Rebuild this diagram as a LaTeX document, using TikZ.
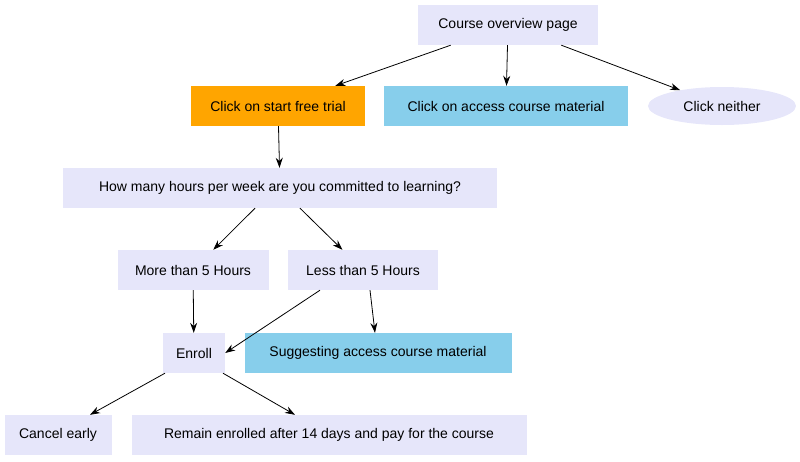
\documentclass[tikz,border=0pt]{standalone}
\usepackage{fontspec}
\setmainfont{Liberation Sans}
\usetikzlibrary{shapes.geometric,arrows.meta}
\definecolor{lav}{HTML}{E6E6FA}
\definecolor{sky}{HTML}{87CEEB}
\definecolor{org}{HTML}{FFA500}
\begin{document}
\begin{tikzpicture}[x=1pt,y=-1pt,
  box/.style={rectangle,fill=lav,minimum height=40pt,inner sep=0pt,font=\fontsize{14}{16}\selectfont},
  edge/.style={-{Stealth[length=10pt,width=7pt]},line width=0.8pt}]
\useasboundingbox (0,0) rectangle (800,461);
\node[box,minimum width=180pt] (cov) at (508,25) {Course overview page};
\node[box,fill=org,minimum width=174pt] (trial) at (278,106) {Click on start free trial};
\node[box,fill=sky,minimum width=244pt] (acc) at (506,106) {Click on access course material};
\node[box,ellipse,minimum width=148pt,minimum height=38pt] (nei) at (722,106) {Click neither};
\node[box,minimum width=434pt] (hrs) at (280,188) {How many hours per week are you committed to learning?};
\node[box,minimum width=151pt] (more) at (193,270) {More than 5 Hours};
\node[box,minimum width=150pt] (less) at (363,270) {Less than 5 Hours};
\node[box,minimum width=62pt] (enr) at (194,353) {Enroll};
\node[box,fill=sky,minimum width=267pt] (sug) at (378,353) {Suggesting access course material};
\node[box,minimum width=107pt] (can) at (58,435) {Cancel early};
\node[box,minimum width=395pt] (rem) at (329,435) {Remain enrolled after 14 days and pay for the course};
\draw[edge] (cov) -- (trial);
\draw[edge] (cov) -- (acc);
\draw[edge] (cov) -- (nei);
\draw[edge] (trial) -- (hrs);
\draw[edge] (hrs.south -| 255,0) -- (more);
\draw[edge] (hrs.south -| 300,0) -- (less);
\draw[edge] (more) -- (enr);
\draw[edge] (less.south -| 320,0) -- (enr.east);
\draw[edge] (less.south -| 370,0) -- (sug.north -| 375,0);
\draw[edge] (enr.south -| 165,0) -- (can.north -| 90,0);
\draw[edge] (enr.south -| 223,0) -- (rem.north -| 295,0);
\end{tikzpicture}
\end{document}
